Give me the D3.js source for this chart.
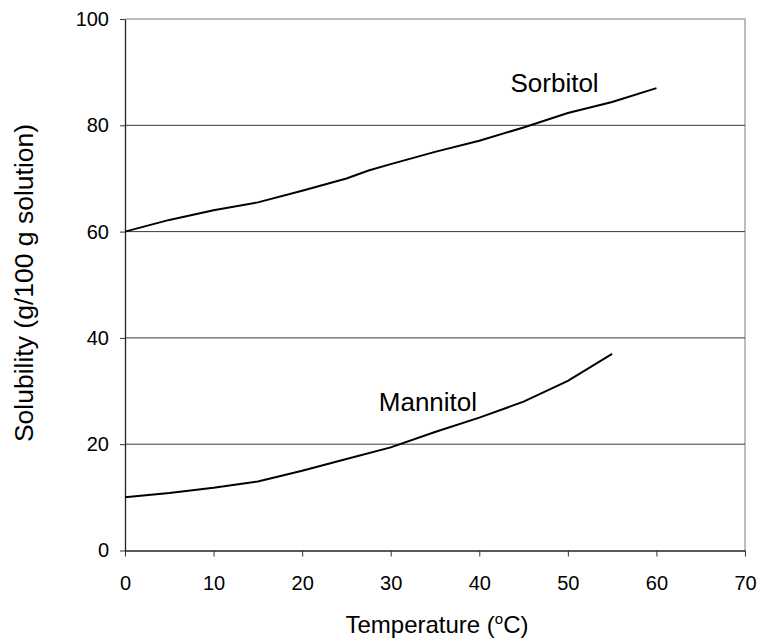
<!DOCTYPE html>
<html><head><meta charset="utf-8">
<script src="https://cdn.jsdelivr.net/npm/d3@7"></script>
<style>body{margin:0;background:#fff}</style>
</head><body>
<svg id="c" width="760" height="641"></svg>
<script>
const sorbitolT = [0,5,10,15,20,25,27.5,30,35,40,45,50,55,60];
const sorbitolS = [60,62.2,64,65.5,67.7,70,71.5,72.7,75,77.1,79.6,82.3,84.4,87];
const mannitolT = [0,5,10,15,20,25,30,35,40,45,50,55];
const mannitolS = [10,10.8,11.8,13,15,17.2,19.4,22.3,25,28,31.9,37];
const xTicks = [0,10,20,30,40,50,60,70];
const yTicks = [0,20,40,60,80,100];
const seriesLabels = [
  {name:"Sorbitol", t:48.5, v:86.2},
  {name:"Mannitol", t:34.2, v:26.3}
];

const svg = d3.select("#c");
const font = "Arial, 'Liberation Sans', sans-serif";
const x = d3.scaleLinear().domain([0,70]).range([125,745]);
const y = d3.scaleLinear().domain([0,100]).range([550.5,19]);

// frame (top and right)
svg.append("path").attr("d",`M${x(0)},${y(100)}H${x(70)}V${y(0)}`)
  .attr("fill","none").attr("stroke","#aaa6a2").attr("stroke-width",1.5);

// gridlines
svg.append("g").selectAll("line").data(yTicks.filter(d=>d>0&&d<100)).join("line")
  .attr("x1",x(0)).attr("x2",x(70)).attr("y1",d=>y(d)).attr("y2",d=>y(d))
  .attr("stroke","#3a3a3a").attr("stroke-width",1);

// axes
const xa = svg.append("g").attr("transform",`translate(0,${y(0)})`)
  .call(d3.axisBottom(x).tickValues(xTicks).tickSize(6).tickPadding(12).tickSizeOuter(0));
const ya = svg.append("g").attr("transform",`translate(${x(0)},0)`)
  .call(d3.axisLeft(y).tickValues(yTicks).tickSize(5).tickPadding(11).tickSizeOuter(0));
xa.select(".domain").attr("stroke","#222").attr("stroke-width",1.3);
ya.select(".domain").attr("stroke","#222").attr("stroke-width",1.3);
[xa,ya].forEach(a=>{
  a.selectAll(".tick line").attr("stroke","#333");
  a.selectAll(".tick text").attr("font-family",font).attr("font-size",20).attr("fill","#000");
});
xa.selectAll(".tick text").attr("dy",null).attr("y",39);

// lines
const line = d3.line().x(d=>x(d[0])).y(d=>y(d[1]));
svg.append("path").datum(sorbitolT.map((t,i)=>[t,sorbitolS[i]]))
  .attr("d",line).attr("fill","none").attr("stroke","#000").attr("stroke-width",2);
svg.append("path").datum(mannitolT.map((t,i)=>[t,mannitolS[i]]))
  .attr("d",line).attr("fill","none").attr("stroke","#000").attr("stroke-width",2);

// series labels
svg.append("g").selectAll("text").data(seriesLabels).join("text")
  .attr("x",d=>x(d.t)).attr("y",d=>y(d.v)).attr("text-anchor","middle")
  .attr("font-family",font).attr("font-size",26).attr("fill","#000").text(d=>d.name);

// axis titles
const xt = svg.append("text").attr("x",437).attr("y",633).attr("text-anchor","middle")
  .attr("font-family",font).attr("font-size",24).attr("fill","#000");
xt.append("tspan").text("Temperature (");
xt.append("tspan").attr("font-size",15).attr("dy",-9).text("o");
xt.append("tspan").attr("dy",9).text("C)");

svg.append("text").attr("transform","translate(33,283) rotate(-90)").attr("text-anchor","middle")
  .attr("font-family",font).attr("font-size",26.5).attr("fill","#000")
  .text("Solubility (g/100 g solution)");
</script>
</body></html>
